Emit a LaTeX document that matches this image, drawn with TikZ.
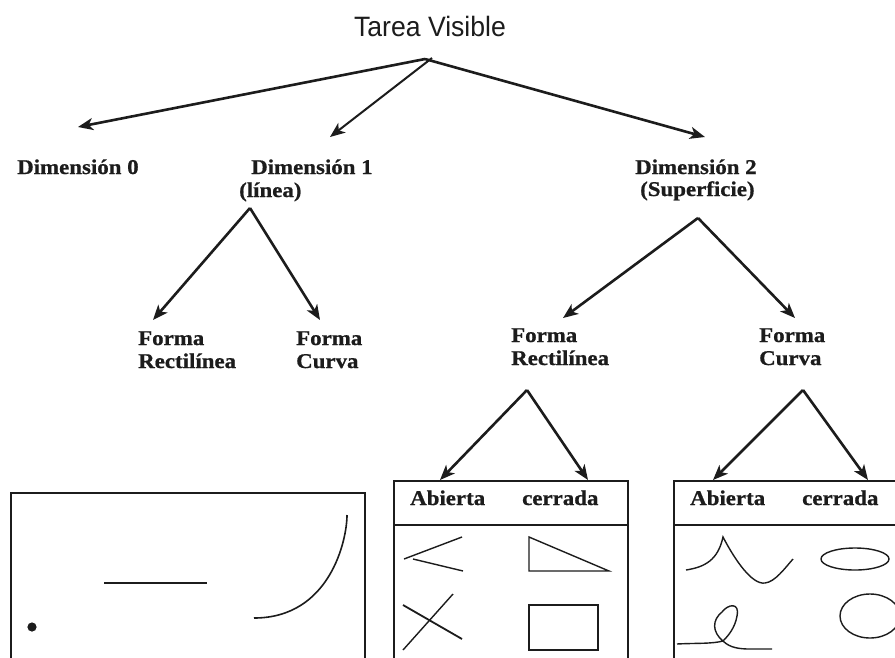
\documentclass[tikz,border=0pt]{standalone}
\usepackage{fontspec}
\setmainfont{Liberation Serif}
\newfontfamily\lblfont[FakeStretch=1.09,BoldFeatures={FakeBold=0.8}]{Liberation Serif}
\newfontfamily\ttlfont[FakeStretch=0.95]{Liberation Sans}
\usetikzlibrary{arrows.meta}
\definecolor{ink}{HTML}{1C1C1C}
\tikzset{
  lbl/.style={inner sep=0pt, anchor=base west, text=ink, font=\lblfont\bfseries\fontsize{21}{23.5}\selectfont},
  ttl/.style={inner sep=0pt, anchor=base, text=ink, font=\ttlfont\fontsize{28}{30}\selectfont},
  arr/.style={draw=ink, line width=2.6pt, -{Stealth[length=15pt,width=12pt,inset=4pt]}},
  frame/.style={draw=ink, line width=1.7pt},
  sketch/.style={draw=ink, line width=1.4pt}
}
\begin{document}
\begin{tikzpicture}[x=1pt,y=-1pt]
\clip (0,0) rectangle (895,657);
\fill[white] (0,0) rectangle (895,657);

% title
\node[ttl] (title) at (430,36) {Tarea Visible};
\coordinate (a0) at (425,59);
\coordinate (a0b) at (432,58);
\coordinate (t0) at (78,127);
\coordinate (t1) at (330,137);
\coordinate (t2) at (705,137);
\draw[arr] (a0) -- (t0);
\draw[arr, line width=2pt] (a0b) -- (t1);
\draw[arr] (a0) -- (t2);

% level 1 labels
\node[lbl] (d0) at (17,174) {Dimensión 0};
\node[lbl] (d1) at (251,174) {Dimensión 1};
\node[lbl] (d1b) at (239,197) {(línea)};
\node[lbl] (d2) at (635,174) {Dimensión 2};
\node[lbl] (d2b) at (640,196) {(Superficie)};

% dimension 1 children
\coordinate (a1) at (250,208);
\coordinate (t11) at (153,320);
\coordinate (t12) at (320,320);
\draw[arr] (a1) -- (t11);
\draw[arr] (a1) -- (t12);
\node[lbl] (f1a) at (138,345) {Forma};
\node[lbl] (f1b) at (138,368) {Rectilínea};
\node[lbl] (f2a) at (296,345) {Forma};
\node[lbl] (f2b) at (296,368) {Curva};

% dimension 2 children
\coordinate (a2) at (698,218);
\coordinate (t21) at (563,318);
\coordinate (t22) at (795,318);
\draw[arr] (a2) -- (t21);
\draw[arr] (a2) -- (t22);
\node[lbl] (f3a) at (511,342) {Forma};
\node[lbl] (f3b) at (511,365) {Rectilínea};
\node[lbl] (f4a) at (759,342) {Forma};
\node[lbl] (f4b) at (759,365) {Curva};

% third level arrows
\coordinate (a3) at (527,390);
\coordinate (t31) at (440,480);
\coordinate (t32) at (588,480);
\draw[arr] (a3) -- (t31);
\draw[arr] (a3) -- (t32);
\coordinate (a4) at (803,390);
\coordinate (t41) at (713,480);
\coordinate (t42) at (868,480);
\draw[arr] (a4) -- (t41);
\draw[arr] (a4) -- (t42);

% box 1
\draw[frame] (11,700) -- (11,493) -- (365,493) -- (365,700);
\fill[ink] (32,627) circle (4.6pt);
\draw[ink, line width=2.4pt] (104,583) -- (207,583);
\draw[sketch, line width=1.6pt] (254,618) .. controls (330,618) and (347,540) .. (347,515);

% box 2
\draw[frame] (394,700) -- (394,481) -- (628,481) -- (628,700);
\draw[frame] (394,525) -- (628,525);
\node[lbl] (ab1) at (410,505) {Abierta};
\node[lbl] (ce1) at (522,505) {cerrada};
\draw[sketch] (462,537) -- (404,559);
\draw[sketch] (413,559) -- (463,571);
\draw[sketch] (529,537) -- (529,571) -- (609,571) -- cycle;
\draw[sketch, line width=1.8pt] (403,605) -- (462,639);
\draw[sketch] (453,594) -- (403,650);
\draw[sketch] (529,605) rectangle (598,650);

% box 3
\draw[frame] (674,700) -- (674,481) -- (900,481);
\draw[frame] (674,525) -- (900,525);
\node[lbl] (ab2) at (690,505) {Abierta};
\node[lbl] (ce2) at (802,505) {cerrada};
\draw[sketch] (686,570) .. controls (705,567) and (718,560) .. (723,537)
  .. controls (735,560) and (752,585) .. (765,583)
  .. controls (775,582) and (785,568) .. (793,559);
\draw[sketch] (855,559) ellipse [x radius=34, y radius=11];
\draw[sketch] (870,616) ellipse [x radius=30, y radius=22];
\draw[sketch] (677,644) .. controls (695,643) and (712,644) .. (723,641)
  .. controls (712,632) and (712,620) .. (722,612)
  .. controls (728,604) and (740,602) .. (737,616)
  .. controls (735,628) and (728,636) .. (723,641)
  .. controls (730,648) and (740,649) .. (750,649) -- (772,649);
\end{tikzpicture}
\end{document}
